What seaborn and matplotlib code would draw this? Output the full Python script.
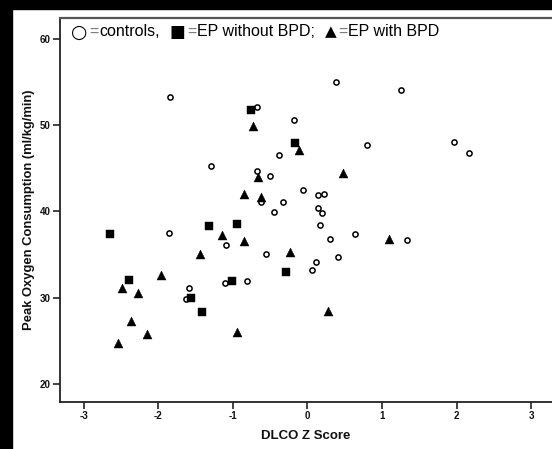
import matplotlib
matplotlib.use("Agg")
import matplotlib.pyplot as plt
from matplotlib.patches import Rectangle
import seaborn as sns
import pandas as pd

# ---- data ----
controls_x = [-1.85, -0.68, 0.38, 1.25, -0.18, 0.80, 1.96, 2.16, -0.38, -1.29,
              -0.68, -0.50, -0.06, 0.14, 0.22, -0.63, -0.33, 0.14, 0.19, -0.45,
              0.17, -1.86, 0.64, 0.30, 1.34, -1.09, -0.55, 0.41, 0.12, 0.06,
              -0.81, -1.10, -1.59, -1.63]
controls_y = [53.3, 52.1, 55.0, 54.1, 50.6, 47.7, 48.0, 46.8, 46.5, 45.2,
              44.7, 44.1, 42.5, 41.9, 42.0, 41.1, 41.1, 40.4, 39.8, 39.9,
              38.4, 37.5, 37.4, 36.8, 36.7, 36.1, 35.1, 34.7, 34.1, 33.2,
              31.9, 31.7, 31.1, 29.9]

ep_nobpd_x = [-0.76, -0.17, -2.65, -1.32, -0.94, -2.39, -1.01, -0.29, -1.56, -1.41]
ep_nobpd_y = [51.8, 47.9, 37.4, 38.3, 38.5, 32.1, 31.9, 33.0, 30.0, 28.3]

ep_bpd_x = [-0.73, -0.11, 0.48, -0.66, -0.85, -0.62, -1.15, -0.85, 1.10, -1.44,
            -0.24, -1.96, -2.49, -2.28, 0.27, -2.37, -2.15, -0.94, -2.54]
ep_bpd_y = [49.9, 47.1, 44.5, 44.0, 42.0, 41.7, 37.3, 36.6, 36.8, 35.1,
            35.3, 32.6, 31.1, 30.6, 28.5, 27.3, 25.8, 26.0, 24.7]

x_ticks = [-3, -2, -1, 0, 1, 2, 3]
y_ticks = [20, 30, 40, 50, 60]
x_label = "DLCO Z Score"
y_label = "Peak Oxygen Consumption (ml/kg/min)"
legend_symbols = ["\u25CB", "\u25A0", "\u25B2"]
legend_labels = ["controls,", "EP without BPD;", "EP with BPD"]

df_c = pd.DataFrame({"x": controls_x, "y": controls_y})
df_n = pd.DataFrame({"x": ep_nobpd_x, "y": ep_nobpd_y})
df_b = pd.DataFrame({"x": ep_bpd_x, "y": ep_bpd_y})

sns.set_style("white")
plt.rcParams["font.family"] = ["Liberation Sans", "DejaVu Sans"]
plt.rcParams["axes.unicode_minus"] = False

W, H = 552, 449
fig = plt.figure(figsize=(W / 100, H / 100), dpi=100)
fig.patch.set_facecolor("white")
ax = fig.add_axes([60 / W, (H - 401.7) / H, (W - 60) / W, (401.7 - 18) / H])

sns.scatterplot(data=df_c, x="x", y="y", ax=ax, marker="o", s=14,
                facecolor="white", edgecolor="black", linewidth=1.1, zorder=3)
sns.scatterplot(data=df_n, x="x", y="y", ax=ax, marker="s", s=30,
                color="black", edgecolor="black", linewidth=0.3, zorder=3)
sns.scatterplot(data=df_b, x="x", y="y", ax=ax, marker="^", s=42,
                color="black", edgecolor="black", linewidth=0.3, zorder=3)

ax.set_xlim(-3.32, 3.28)
ax.set_ylim(17.95, 62.4)
ax.set_xticks(x_ticks)
ax.set_yticks(y_ticks)
ax.set_xticklabels([str(t) for t in x_ticks], fontsize=7, fontweight="bold")
ax.set_yticklabels([str(t) for t in y_ticks], fontsize=7, fontweight="bold")
ax.tick_params(axis="both", direction="out", length=5, width=1.2, color="#222222",
               pad=2, bottom=True, left=True, labelcolor="#111111")
ax.set_xlabel(x_label, fontsize=9.5, fontweight="bold", labelpad=6, color="#111111")
ax.set_ylabel(y_label, fontsize=9.4, fontweight="bold", labelpad=3.5, color="#111111")

for side in ["left", "bottom"]:
    ax.spines[side].set_color("#222222")
    ax.spines[side].set_linewidth(1.3)
ax.spines["top"].set_color("#555555")
ax.spines["top"].set_linewidth(1.6)
ax.spines["right"].set_visible(False)

# legend line drawn as a row of text pieces, laid out left to right
renderer = fig.canvas.get_renderer()
x_px = 71.0
y_fig = 1 - 32 / H
sym_sizes = [13.5, 12, 11]
for i, (sym, lab) in enumerate(zip(legend_symbols, legend_labels)):
    pieces = [(sym, sym_sizes[i], "black", ["DejaVu Sans"], 1.5),
              ("=", 11.5, "#777777", ["Liberation Sans", "DejaVu Sans"], 1.0),
              (lab, 11.5, "black", ["Liberation Sans", "DejaVu Sans"], 10.0)]
    for txt, fs, col, fam, gap in pieces:
        t = fig.text(x_px / W, y_fig, txt, fontsize=fs, va="center",
                     ha="left", color=col, family=fam)
        bb = t.get_window_extent(renderer=renderer)
        x_px += bb.width + gap

# black scan borders
fig.patches.append(Rectangle((0, 0), 12 / W, 1, transform=fig.transFigure,
                             color="black", zorder=10))
fig.patches.append(Rectangle((0, 1 - 9 / H), 1, 9 / H, transform=fig.transFigure,
                             color="black", zorder=10))

fig.savefig("out.png", dpi=100, facecolor="white")
